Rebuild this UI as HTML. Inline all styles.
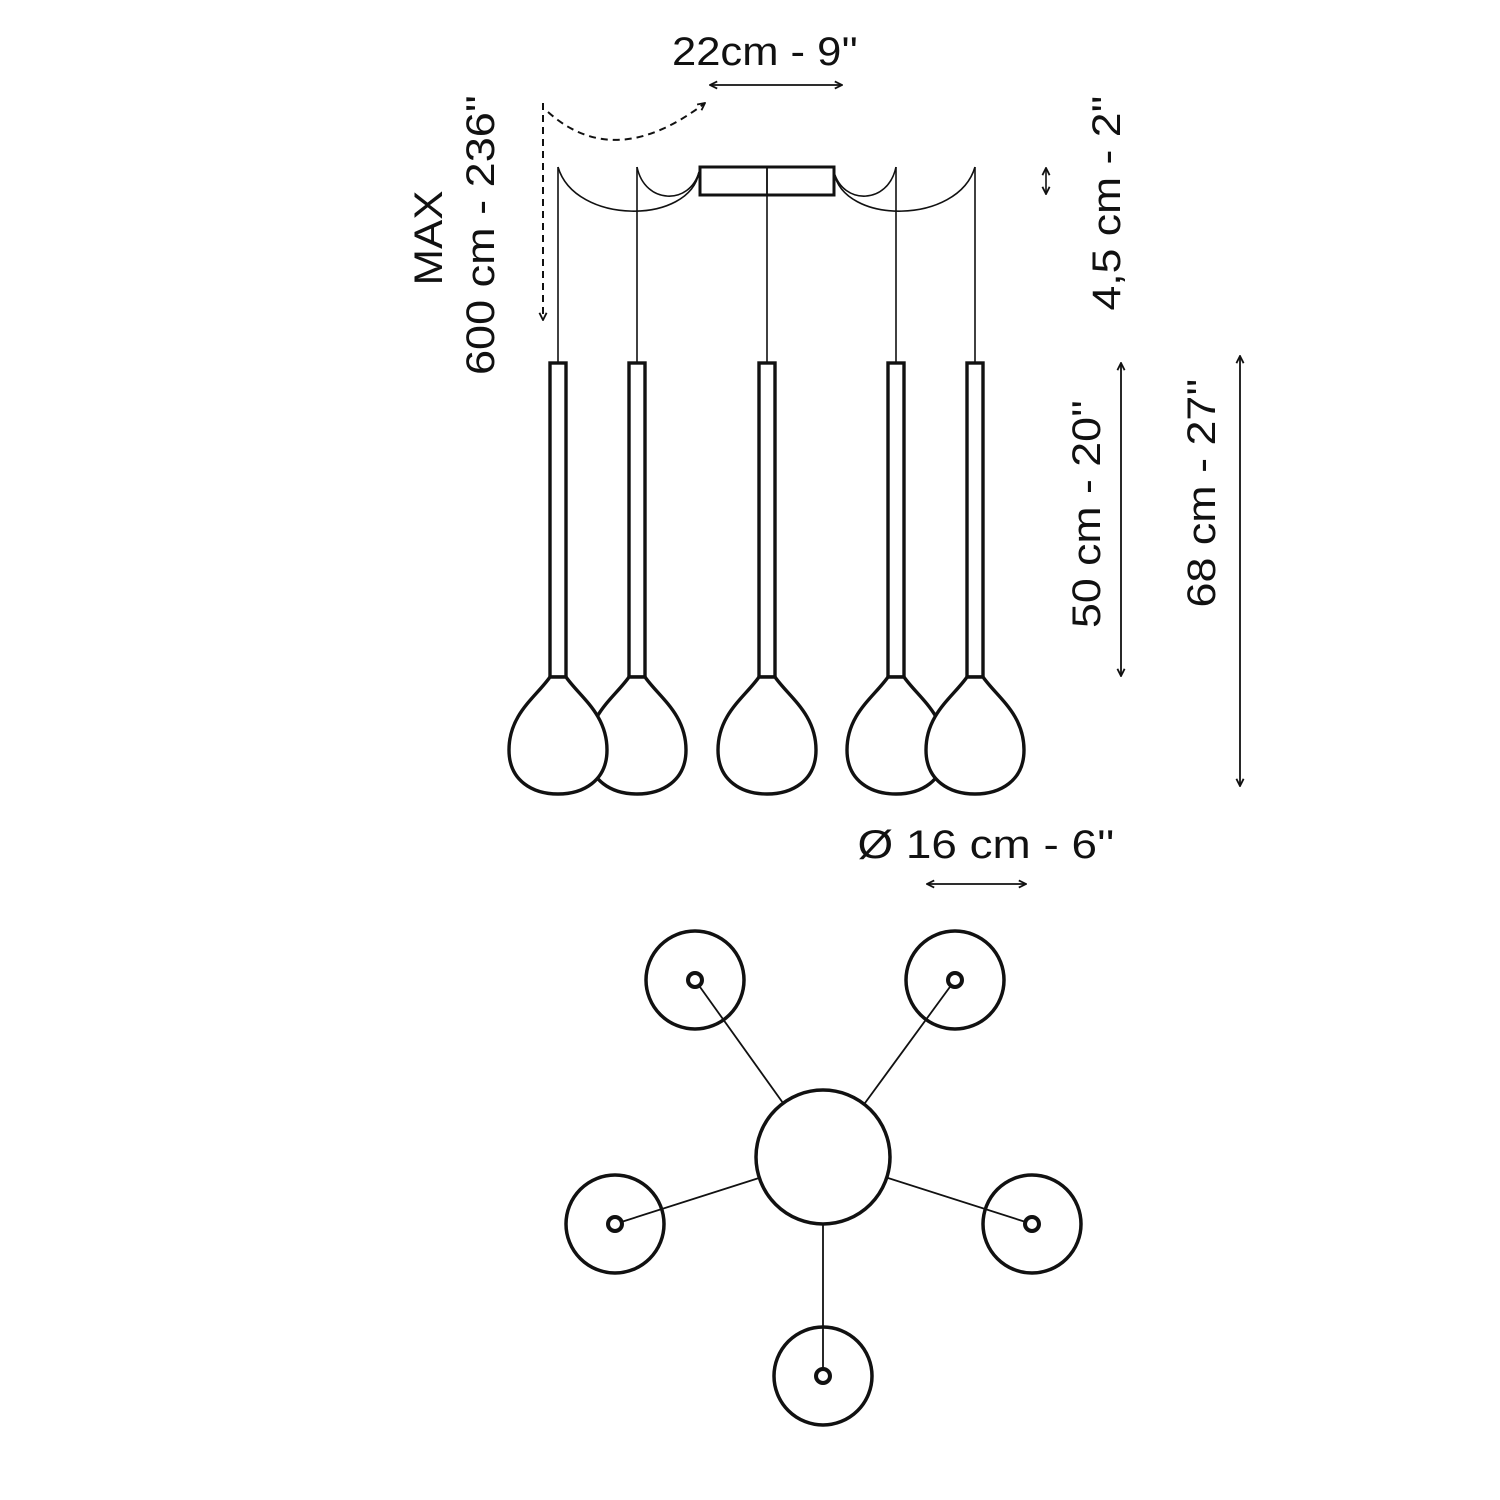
<!DOCTYPE html>
<html><head><meta charset="utf-8"><style>
html,body{margin:0;padding:0;background:#fff}
svg{display:block}
text{font-family:"Liberation Sans",sans-serif;fill:#111}
</style></head><body>
<svg width="1500" height="1500" viewBox="0 0 1500 1500" xmlns="http://www.w3.org/2000/svg">
<defs>
<marker id="ar" viewBox="0 0 10 10" refX="9" refY="5" markerWidth="9" markerHeight="9" orient="auto-start-reverse" markerUnits="userSpaceOnUse"><path d="M1,1 L9,5 L1,9" fill="none" stroke="#111" stroke-width="2"/></marker>
<path id="bulb" d="M-8,677 C-22,697 -49,714 -49,750 C-49,781 -25,794 0,794 C25,794 49,781 49,750 C49,714 22,697 8,677 Z" fill="#fff" stroke="#111" stroke-width="3.4"/>
</defs>
<text x="765" y="65" font-size="40" text-anchor="middle" textLength="186" lengthAdjust="spacingAndGlyphs">22cm - 9''</text>
<line x1="710" y1="85" x2="842" y2="85" stroke="#111" stroke-width="1.8" marker-start="url(#ar)" marker-end="url(#ar)"/>
<path d="M543,103 L543,320" stroke="#111" stroke-width="2" stroke-dasharray="7,5" fill="none" marker-end="url(#ar)"/>
<path d="M548,112 Q615,172 705,103" stroke="#111" stroke-width="2" stroke-dasharray="7,5" fill="none" marker-end="url(#ar)"/>
<g fill="none" stroke="#111" stroke-width="1.6">
<path d="M558,167 C575,225 690,225 699,172"/>
<path d="M637,167 C645,205 690,205 699,172"/>
<path d="M975,167 C958,225 843,225 834,172"/>
<path d="M896,167 C888,205 843,205 834,172"/>
<line x1="558" y1="167" x2="558" y2="362"/>
<line x1="637" y1="167" x2="637" y2="362"/>
<line x1="767" y1="167" x2="767" y2="362"/>
<line x1="896" y1="167" x2="896" y2="362"/>
<line x1="975" y1="167" x2="975" y2="362"/>
</g>
<rect x="700" y="167" width="134" height="28" fill="none" stroke="#111" stroke-width="3"/>
<line x1="767" y1="167" x2="767" y2="195" stroke="#111" stroke-width="1.6"/>
<g fill="#fff" stroke="#111" stroke-width="3.4">
<rect x="550" y="363" width="16" height="314"/>
<rect x="629" y="363" width="16" height="314"/>
<rect x="759" y="363" width="16" height="314"/>
<rect x="888" y="363" width="16" height="314"/>
<rect x="967" y="363" width="16" height="314"/>
</g>
<use href="#bulb" x="637"/>
<use href="#bulb" x="896"/>
<use href="#bulb" x="558"/>
<use href="#bulb" x="767"/>
<use href="#bulb" x="975"/>
<text transform="translate(442,238) rotate(-90)" font-size="40" text-anchor="middle" textLength="95" lengthAdjust="spacingAndGlyphs">MAX</text>
<text transform="translate(494,235) rotate(-90)" font-size="40" text-anchor="middle" textLength="280" lengthAdjust="spacingAndGlyphs">600 cm - 236''</text>
<text transform="translate(1120,203) rotate(-90)" font-size="40" text-anchor="middle" textLength="215" lengthAdjust="spacingAndGlyphs">4,5 cm - 2''</text>
<line x1="1046" y1="168" x2="1046" y2="194" stroke="#111" stroke-width="1.6" marker-start="url(#ar)" marker-end="url(#ar)"/>
<text transform="translate(1100,514) rotate(-90)" font-size="40" text-anchor="middle" textLength="228" lengthAdjust="spacingAndGlyphs">50 cm - 20''</text>
<line x1="1121" y1="363" x2="1121" y2="676" stroke="#111" stroke-width="1.8" marker-start="url(#ar)" marker-end="url(#ar)"/>
<text transform="translate(1215,493) rotate(-90)" font-size="40" text-anchor="middle" textLength="229" lengthAdjust="spacingAndGlyphs">68 cm - 27''</text>
<line x1="1240" y1="356" x2="1240" y2="786" stroke="#111" stroke-width="1.8" marker-start="url(#ar)" marker-end="url(#ar)"/>
<text x="986" y="858" font-size="40" text-anchor="middle" textLength="257" lengthAdjust="spacingAndGlyphs">Ø 16 cm - 6''</text>
<line x1="927" y1="884" x2="1026" y2="884" stroke="#111" stroke-width="1.8" marker-start="url(#ar)" marker-end="url(#ar)"/>
<g fill="none" stroke="#111">
<g stroke-width="1.8">
<line x1="695" y1="980" x2="783" y2="1103"/>
<line x1="955" y1="980" x2="865" y2="1103"/>
<line x1="615" y1="1224" x2="759" y2="1178"/>
<line x1="1032" y1="1224" x2="888" y2="1178"/>
<line x1="823" y1="1224" x2="823" y2="1376"/>
</g>
<g stroke-width="3.5">
<circle cx="823" cy="1157" r="67"/>
<circle cx="695" cy="980" r="49"/>
<circle cx="955" cy="980" r="49"/>
<circle cx="615" cy="1224" r="49"/>
<circle cx="1032" cy="1224" r="49"/>
<circle cx="823" cy="1376" r="49"/>
</g>
<g stroke-width="4" fill="#fff">
<circle cx="695" cy="980" r="7"/>
<circle cx="955" cy="980" r="7"/>
<circle cx="615" cy="1224" r="7"/>
<circle cx="1032" cy="1224" r="7"/>
<circle cx="823" cy="1376" r="7"/>
</g>
</g>
</svg>
</body></html>
